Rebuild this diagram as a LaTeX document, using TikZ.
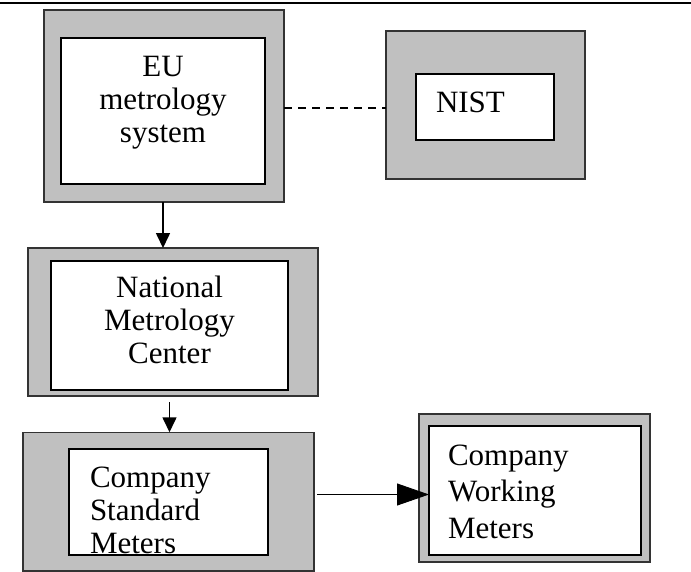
\documentclass[tikz,border=0pt]{standalone}
\usepackage{fontspec}
\setmainfont{Liberation Serif}
\usetikzlibrary{positioning, arrows.meta}
\definecolor{framegray}{RGB}{192,192,192}

\begin{document}
\begin{tikzpicture}[
    x=1pt,
    y=-1pt,
    >={Triangle[length=15pt, width=14pt]},
    frame/.style={rectangle, draw=black!80, fill=framegray, line width=1.5pt, inner sep=0pt, outer sep=0pt},
    inbox/.style={rectangle, draw, fill=white, line width=1.6pt, inner ysep=0pt, outer sep=0pt,
                  font=\fontsize{31}{33}\selectfont}
]
\useasboundingbox (0,0) rectangle (691,571);

%---------------- Top rule ----------------
\draw[line width=1.4pt] (0,3) -- (691,3);

%---------------- Grey frames ----------------
\foreach \name/\x/\y/\w/\h in {euout/164/106/240/192, nistout/485.5/105/199/148,
                               natout/173/322/290/148, cstout/168.5/501.5/291/138.5,
                               cwmout/534.5/488/231/148} {
    \node[frame, minimum width=\w pt, minimum height=\h pt] (\name) at (\x,\y) {};
}

%---------------- Inner boxes ----------------
\node[inbox, inner xsep=0pt, text width=204pt, align=center,
      text height=38pt, text depth=108pt] (eu) at (163,111) {EU\\metrology\\system};
\node[inbox, inner xsep=20pt, text width=98pt, align=left,
      text height=38pt, text depth=28pt] (nist) at (485,107) {NIST};
\node[inbox, inner xsep=0pt, text width=237pt, align=center,
      text height=36pt, text depth=93pt] (nat) at (169.5,325.5) {National\\Metrology\\Center};
\node[inbox, inner xsep=21pt, text width=157pt, align=left,
      text height=38pt, text depth=68pt] (cst) at (168.5,502) {Company\\Standard\\Meters};
\node[inbox, inner xsep=19pt, text width=174pt, align=left, line width=2.4pt,
      font=\fontsize{31}{36.5}\selectfont,
      text height=39pt, text depth=90pt] (cwm) at (535,490.5) {Company\\Working\\Meters};

%---------------- Connections ----------------
\draw[dash pattern=on 8pt off 6pt, line width=1.4pt]
    ([yshift=-2pt]euout.east) -- ([yshift=-2pt]euout.east -| nistout.west);
\draw[->, line width=1.6pt] (euout.south -| eu.south) -- (natout.north -| eu.south);
\draw[->, line width=1.6pt, shorten <=6pt] (natout.south -| nat.south) -- (cstout.north -| nat.south);
\draw[-{Triangle[length=32pt, width=22pt]}, line width=0.9pt, shorten <=3pt]
    ([yshift=7pt]cstout.east) -- ([yshift=7pt]cstout.east -| cwm.west);
\end{tikzpicture}
\end{document}
